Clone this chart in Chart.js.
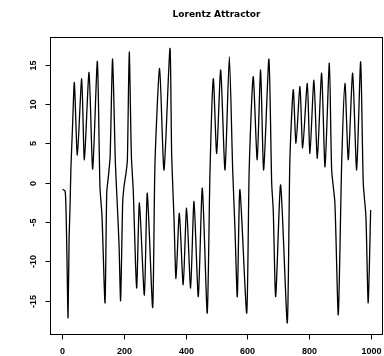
<!DOCTYPE html>
<html>
<head>
<meta charset="utf-8">
<script src="https://cdn.jsdelivr.net/npm/chart.js@4/dist/chart.umd.min.js"></script>
<style>
html,body{margin:0;padding:0;background:#fff;}
#wrap{width:384px;height:356px;position:relative;}
</style>
</head>
<body>
<div id="wrap"><canvas id="c" width="384" height="356"></canvas></div>
<script>
const chartTitle = "Lorentz Attractor";
// time index (at extrema / bends)
const steps = [1,9,12,15,18.5,22,25,28,33,39,48.7,62.8,71.5,86.6,98.5,113.6,122,128.7,138.5,144,150,155,163,172,178,184,189,195.7,200,206.5,211,217,224,230,241,250,266,275.6,293,300.5,315.5,329.8,349,354.7,362,368.7,379.5,392,403,416,427,441,454,470,479,489.7,500.6,513.6,527.6,541.6,552.5,560,567.5,576,598,606,619,632,643,653,670,679,684,692,708,729.6,738,749,757.8,770.7,779.5,794.5,803,816,827,841,852,866,873.5,884,895,906,916.7,927.5,941.6,954.5,967.5,976,984.6,992,1000];
// x-coordinate of the attractor at those steps
const xValues = [-0.85,-1.1,-3.5,-9.5,-17.2,-7,-3,2,7,12.7,3.5,13.2,2.9,14.0,1.7,15.4,-0.5,-4.3,-15.3,-1.3,1,3.3,15.7,2.5,-2.6,-8,-15,-2.6,-0.5,1.2,2.9,16.6,3.3,-1,-13.4,-2.6,-14.3,-1.35,-15.9,2.5,14.5,1.6,17.05,3.3,-4.3,-12.2,-3.9,-13,-3.25,-13.4,-2.4,-14.5,-0.7,-16.6,1.6,13.2,3.7,14.3,1.6,16.0,1.6,-6,-14.5,-0.9,-16.6,1.6,13.45,2.9,14.3,1.6,15.7,-0.1,-3.5,-14.5,-0.3,-17.85,2.9,11.8,5.0,12.2,4.4,12.6,3.7,13.0,3.1,13.9,2.0,15.2,1.6,-2.6,-16.8,2.5,12.6,2.9,13.9,1.6,15.35,-0.1,-4.3,-15.3,-3.5];
const xTicks = [0,200,400,600,800,1000];
const yTicks = [-15,-10,-5,0,5,10,15];

const points = steps.map((s,i)=>({x:s,y:xValues[i]}));

const rAxes = {
  id:'rAxes',
  afterDraw(chart){
    const ctx = chart.ctx, a = chart.chartArea;
    const xs = chart.scales.x, ys = chart.scales.y;
    ctx.save();
    ctx.strokeStyle = '#000';
    ctx.lineWidth = 1;
    ctx.strokeRect(Math.round(a.left)+0.5, Math.round(a.top)+0.5, Math.round(a.right-a.left)-1, Math.round(a.bottom-a.top));
    ctx.fillStyle = '#000';
    ctx.font = 'bold 9px "Liberation Sans", Arial, sans-serif';
    ctx.textAlign = 'center';
    ctx.textBaseline = 'middle';
    const by = Math.round(a.bottom)+0.5;
    xTicks.forEach(v=>{
      const px = Math.round(xs.getPixelForValue(v))+0.5;
      ctx.beginPath(); ctx.moveTo(px, by); ctx.lineTo(px, by+5); ctx.stroke();
      ctx.fillText(String(v), px, 351.5);
    });
    const lx = Math.round(a.left)+0.5;
    yTicks.forEach(v=>{
      const py = Math.round(ys.getPixelForValue(v))+0.5;
      ctx.beginPath(); ctx.moveTo(lx, py); ctx.lineTo(lx-5, py); ctx.stroke();
      ctx.save();
      ctx.translate(34, py);
      ctx.rotate(-Math.PI/2);
      ctx.fillText(String(v), 0, 0);
      ctx.restore();
    });
    ctx.font = 'bold 9px "DejaVu Sans", sans-serif';
    ctx.fillText(chartTitle, (a.left+a.right)/2, 15);
    ctx.restore();
  }
};

new Chart(document.getElementById('c'), {
  type:'line',
  data:{datasets:[{
    data: points,
    borderColor:'#000',
    borderWidth:1.3,
    pointRadius:0,
    fill:false,
    tension:0.22
  }]},
  options:{
    responsive:false,
    animation:false,
    devicePixelRatio:1,
    layout:{padding:{left:50,top:37,right:1,bottom:22}},
    plugins:{legend:{display:false},tooltip:{enabled:false},title:{display:false}},
    scales:{
      x:{type:'linear',min:-40,max:1040,display:false},
      y:{type:'linear',min:-19.25,max:18.5,display:false}
    }
  },
  plugins:[rAxes]
});
</script>
</body>
</html>
